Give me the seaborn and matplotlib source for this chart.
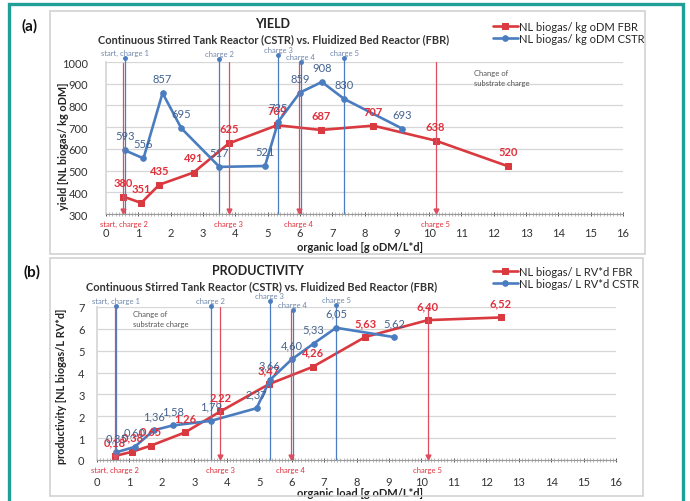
import matplotlib
matplotlib.use("Agg")
import matplotlib.pyplot as plt
from matplotlib.patches import Rectangle
from matplotlib.ticker import MultipleLocator
import seaborn as sns

# organic load [g oDM/L*d] of each measuring point
fbr_load = [0.54, 1.09, 1.65, 2.71, 3.80, 5.30, 6.65, 8.27, 10.20, 12.44]
cstr_load = [0.59, 1.16, 1.75, 2.33, 3.51, 4.92, 5.33, 6.00, 6.68, 7.37, 9.17]

# yield [NL biogas/ kg oDM]
fbr_yield = [380, 351, 435, 491, 625, 709, 687, 707, 638, 520]
cstr_yield = [593, 556, 857, 695, 517, 521, 725, 859, 908, 830, 693]

# productivity [NL biogas/ L RV*d]
fbr_prod = [0.18, 0.38, 0.65, 1.26, 2.22, 3.47, 4.26, 5.63, 6.40, 6.52]
cstr_prod = [0.35, 0.60, 1.36, 1.58, 1.79, 2.37, 3.66, 4.60, 5.33, 6.05, 5.62]

# substrate charge changes
cstr_charge_x = [0.59, 3.51, 5.33, 6.03, 7.37]
cstr_charge_lbl = ["start, charge 1", "charge 2", "charge 3", "charge 4", "charge 5"]
fbr_charge_x = [0.54, 3.80, 5.97, 10.20]
fbr_charge_lbl = ["start, charge 2", "charge 3", "charge 4", "charge 5"]

cstr_top_yield = [1018, 1015, 1030, 1000, 1018]
fbr_top_yield = [995, 1000, 1000, 1000]
cstr_top_prod = [7.06, 7.06, 7.27, 6.84, 7.11]
fbr_top_prod = [7.0, 7.0, 6.85, 7.0]

RED = "#d9393f"
BLUE = "#4a7dc0"
RED_TXT = "#e0303c"
BLUE_TXT = "#44628e"

sns.set_theme(style="white")
plt.rcParams["font.family"] = ["Lato", "DejaVu Sans"]

fig = plt.figure(figsize=(6.9, 5.02), dpi=100)
W, H = 690, 502


def px_axes(left, top, right, bottom):
    return fig.add_axes([left / W, 1 - bottom / H, (right - left) / W, (bottom - top) / H])


# frames
fig.patches.append(Rectangle((9 / W, -0.02), 674 / W, 1 - 5 / H + 0.02, transform=fig.transFigure,
                             fill=False, edgecolor="#1f9f98", lw=2.4))
fig.patches.append(Rectangle((50 / W, 1 - 255 / H), 595 / W, 243 / H, transform=fig.transFigure,
                             fill=False, edgecolor="#d2d2d2", lw=1.2))
fig.patches.append(Rectangle((50 / W, 1 - 497 / H), 593 / W, 238 / H, transform=fig.transFigure,
                             fill=False, edgecolor="#d2d2d2", lw=1.2))


def panel(ax, fbr_y, cstr_y, ylim, ystep, fmt, fbr_lbl, cstr_lbl,
          cstr_top, fbr_top, arrow_y, charge_pad, ylabel):
    sns.lineplot(x=fbr_load, y=fbr_y, ax=ax, color=RED, lw=1.9, marker="s", markersize=4,
                 markeredgecolor=RED, sort=False, label=fbr_lbl)
    sns.lineplot(x=cstr_load, y=cstr_y, ax=ax, color=BLUE, lw=1.9, marker="o", markersize=4,
                 markeredgecolor=BLUE, sort=False, label=cstr_lbl)

    for x, v in zip(fbr_load, fbr_y):
        ax.annotate(fmt(v), (x, v), xytext=(0, 10.5), textcoords="offset points",
                    ha="center", va="center", fontsize=8, color=RED_TXT, fontweight="bold")
    for x, v in zip(cstr_load, cstr_y):
        ax.annotate(fmt(v), (x, v), xytext=(0, 10.5), textcoords="offset points",
                    ha="center", va="center", fontsize=8, color=BLUE_TXT)

    # charge markers: blue from top, red arrows down to the axis
    for x, top, lbl in zip(cstr_charge_x, cstr_top, cstr_charge_lbl):
        ax.plot([x, x], [ylim[0], top], color=BLUE, lw=0.9, clip_on=False)
        ax.plot([x], [top], marker="o", ms=2.5, color=BLUE, clip_on=False)
        ax.annotate(lbl, (x, top), xytext=(0, 4), textcoords="offset points", ha="center",
                    va="center", fontsize=5.5, color="#7088ad", annotation_clip=False)
    for x, top, lbl in zip(fbr_charge_x, fbr_top, fbr_charge_lbl):
        ax.plot([x, x], [arrow_y, top], color="#dd4f5f", lw=0.9, clip_on=False)
        ax.plot([x], [arrow_y], marker="v", ms=3.5, color="#dd4f5f", clip_on=False)
        ax.annotate(lbl, (x, ylim[0]), xytext=(0, -charge_pad), textcoords="offset points",
                    ha="center", va="center", fontsize=5.5, color=RED_TXT, annotation_clip=False)

    ax.set_xlim(0, 16)
    ax.set_ylim(*ylim)
    ax.xaxis.set_major_locator(MultipleLocator(1))
    ax.xaxis.set_minor_locator(MultipleLocator(0.1))
    ax.yaxis.set_major_locator(MultipleLocator(ystep))
    ax.grid(axis="y", color="#d6d6d6", lw=0.9)
    ax.set_axisbelow(True)
    for s in ["top", "right"]:
        ax.spines[s].set_visible(False)
    ax.spines["left"].set_color("#d6d6d6")
    ax.spines["bottom"].set_color("#9a9a9a")
    ax.spines["bottom"].set_linewidth(0.8)
    ax.tick_params(axis="x", which="minor", direction="inout", length=2.5, width=0.5,
                   color="#9a9a9a", bottom=True)
    ax.tick_params(axis="x", which="major", direction="inout", length=3, width=0.6,
                   color="#9a9a9a", bottom=True)
    ax.tick_params(axis="y", length=0)
    ax.tick_params(labelsize=8, colors="#333333")
    ax.set_xlabel("organic load [g oDM/L*d]", fontsize=8, fontweight="bold", color="#222222")
    ax.set_ylabel(ylabel, fontsize=7.8, fontweight="bold", color="#222222")


# (a) yield
ax1 = px_axes(106, 63, 623, 215)
panel(ax1, fbr_yield, cstr_yield, (300, 1000), 100, lambda v: f"{v:d}",
      "NL biogas/ kg oDM FBR", "NL biogas/ kg oDM CSTR",
      cstr_top_yield, fbr_top_yield, 315, 7, "yield [NL biogas/ kg oDM]")
ax1.tick_params(axis="x", pad=8)
ax1.tick_params(axis="y", pad=13)
ax1.xaxis.set_label_coords(0.491, -0.178)
ax1.yaxis.set_label_coords(-0.0725, 0.45)
ax1.text(11.4, 968, "Change of\nsubstrate charge", fontsize=5.5, color="#555555",
         va="top", linespacing=1.5)
ax1.legend(loc="upper left", bbox_to_anchor=(487 / W, 1 - 16 / H), bbox_transform=fig.transFigure,
           frameon=False, handlelength=2.3, handletextpad=0.1, labelspacing=0.15, borderpad=0,
           fontsize=8)

# (b) productivity
ax2 = px_axes(97, 308, 616, 461)
panel(ax2, fbr_prod, cstr_prod, (0, 7), 1, lambda v: f"{v:.2f}".replace(".", ","),
      "NL biogas/ L RV*d FBR", "NL biogas/ L RV*d CSTR",
      cstr_top_prod, fbr_top_prod, 0.12, 7, "productivity [NL biogas/L RV*d]")
ax2.tick_params(axis="x", pad=10)
ax2.tick_params(axis="y", pad=9)
ax2.xaxis.set_label_coords(0.507, -0.176)
ax2.yaxis.set_label_coords(-0.057, 0.486)
ax2.text(1.12, 6.85, "Change of\nsubstrate charge", fontsize=5.5, color="#555555",
         va="top", linespacing=1.5)
ax2.legend(loc="upper left", bbox_to_anchor=(487 / W, 1 - 261 / H), bbox_transform=fig.transFigure,
           frameon=False, handlelength=2.3, handletextpad=0.1, labelspacing=0.15, borderpad=0,
           fontsize=8)

# titles
sub = "Continuous Stirred Tank Reactor (CSTR) vs. Fluidized Bed Reactor (FBR)"
fig.text(273 / W, 1 - 24 / H, "YIELD", ha="center", va="center", fontsize=9, fontweight="bold",
         color="#222222")
fig.text(274 / W, 1 - 40 / H, sub, ha="center", va="center", fontsize=7.9, fontweight="bold",
         color="#333333")
fig.text(258 / W, 1 - 271 / H, "PRODUCTIVITY", ha="center", va="center", fontsize=9,
         fontweight="bold", color="#222222")
fig.text(262 / W, 1 - 287 / H, sub, ha="center", va="center", fontsize=7.9, fontweight="bold",
         color="#333333")
fig.text(30 / W, 1 - 26 / H, "(a)", ha="center", va="center", fontsize=11, fontweight="bold",
         color="#111111")
fig.text(32 / W, 1 - 272 / H, "(b)", ha="center", va="center", fontsize=11, fontweight="bold",
         color="#111111")

fig.savefig("out.png", dpi=100)
